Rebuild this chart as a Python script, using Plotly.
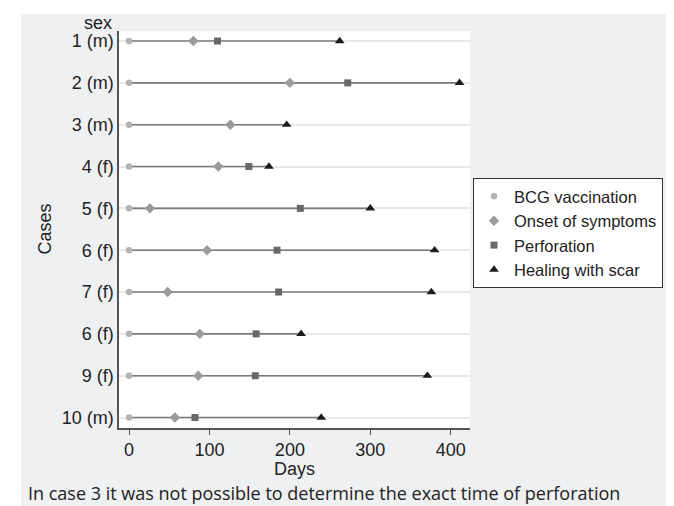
import plotly.graph_objects as go

case_labels = ["1 (m)", "2 (m)", "3 (m)", "4 (f)", "5 (f)", "6 (f)", "7 (f)", "6 (f)", "9 (f)", "10 (m)"]
case_pos = [1, 2, 3, 4, 5, 6, 7, 8, 9, 10]
bcg = [0, 0, 0, 0, 0, 0, 0, 0, 0, 0]
onset = [80, 200, 126, 111, 26, 97, 48, 88, 86, 57]
perforation = [110, 272, None, 149, 213, 184, 186, 158, 157, 82]
healing = [262, 411, 196, 174, 300, 380, 376, 214, 371, 239]
x_ticks = [0, 100, 200, 300, 400]

W, H = 674, 506
L, R, T, B = 111, 462, 23, 420  # plot area in px

def px_x(p):
    return (p - L) / (R - L)

def px_y(p):
    return (B - p) / (B - T)

FONT = "Liberation Sans, Arial, Helvetica, sans-serif"
fig = go.Figure()

# connecting lines
lx, ly = [], []
for y, a, b in zip(case_pos, bcg, healing):
    lx += [a, b, None]
    ly += [y, y, None]
fig.add_trace(go.Scatter(x=lx, y=ly, mode="lines", line=dict(color="#7a7a7a", width=1.6),
                         showlegend=False, hoverinfo="skip"))

series = [
    ("BCG vaccination", bcg, "circle", "#b3b3b3", 6.5),
    ("Onset of symptoms", onset, "diamond", "#9b9b9b", 8),
    ("Perforation", perforation, "square", "#686868", 7),
    ("Healing with scar", healing, "triangle-up", "#1c1c1c", 8.5),
]
for name, vals, sym, col, size in series:
    fig.add_trace(go.Scatter(x=vals, y=case_pos, mode="markers", name=name,
                             marker=dict(symbol=sym, color=col, size=size, line=dict(width=0))))

fig.update_layout(
    width=W, height=H,
    margin=dict(l=L, r=W - R, t=T, b=H - B),
    paper_bgcolor="#eff0f2",
    plot_bgcolor="white",
    font=dict(family=FONT, size=18, color="#222"),
    xaxis=dict(range=[-12.5, 424], tickvals=x_ticks, ticks="outside", ticklen=5, tickwidth=1.2,
               tickcolor="#555", showgrid=False, zeroline=False, showline=True,
               linecolor="#555", linewidth=1.5, tickfont=dict(size=18, color="#222")),
    yaxis=dict(range=[10.25, 0.76], tickvals=case_pos, ticktext=case_labels, ticks="",
               showgrid=True, gridcolor="#e9e9e9", gridwidth=1.5, zeroline=False,
               showline=True, linecolor="#555", linewidth=1.5, tickfont=dict(size=18, color="#222")),
    legend=dict(x=px_x(465), y=px_y(170), xanchor="left", yanchor="top",
                bgcolor="white", bordercolor="#333", borderwidth=1,
                font=dict(family=FONT, size=16.5, color="#222"), tracegroupgap=0),
    shapes=[
        dict(type="rect", xref="paper", yref="paper", x0=px_x(0), x1=px_x(13), y0=px_y(H), y1=px_y(0),
             fillcolor="white", line=dict(width=0), layer="below"),
        dict(type="rect", xref="paper", yref="paper", x0=px_x(0), x1=px_x(W), y0=px_y(6), y1=px_y(0),
             fillcolor="white", line=dict(width=0), layer="below"),
    ],
    annotations=[
        dict(text="sex", xref="paper", yref="paper", x=px_x(106), y=px_y(15), xanchor="right",
             yanchor="middle", showarrow=False, font=dict(size=18, color="#222")),
        dict(text="Cases", xref="paper", yref="paper", x=px_x(36), y=0.5, textangle=-90,
             xanchor="center", yanchor="middle", showarrow=False, font=dict(size=18, color="#222")),
        dict(text="Days", xref="paper", yref="paper", x=0.5, y=px_y(461), xanchor="center",
             yanchor="middle", showarrow=False, font=dict(size=18, color="#222")),
        dict(text="In case 3 it was not possible to determine the exact time of perforation",
             xref="paper", yref="paper", x=px_x(18), y=px_y(485), xanchor="left", yanchor="middle",
             showarrow=False, font=dict(family="Open Sans, sans-serif", size=18, color="#222")),
    ],
)

fig.write_html("out.html")
